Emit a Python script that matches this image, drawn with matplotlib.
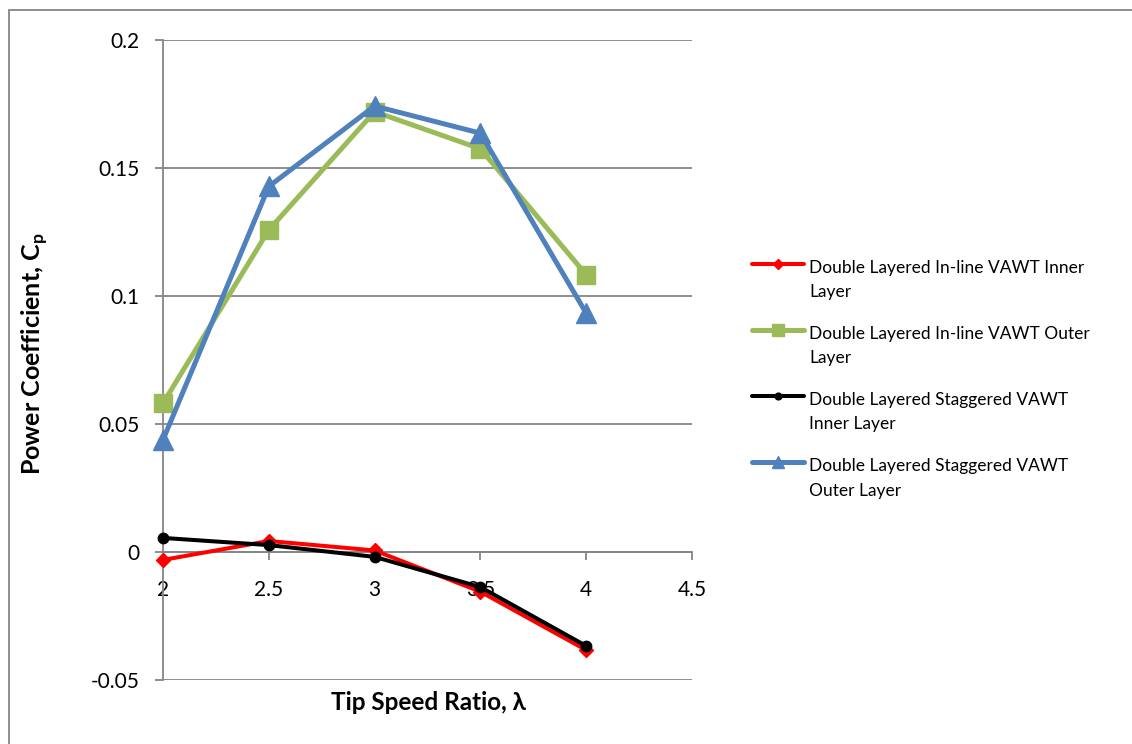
import matplotlib
matplotlib.use("Agg")
import numpy as np
import matplotlib.pyplot as plt
from matplotlib.patches import Rectangle
from matplotlib.legend_handler import HandlerLine2D

# Tip speed ratio and power coefficient for each rotor layer
tsr = [2, 2.5, 3, 3.5, 4]
inline_inner = [-0.0031, 0.0043, 0.0006, -0.0155, -0.0383]
inline_outer = [0.0581, 0.1258, 0.1720, 0.1575, 0.1083]
staggered_inner = [0.0055, 0.0027, -0.0019, -0.0137, -0.0367]
staggered_outer = [0.0438, 0.1428, 0.1742, 0.1636, 0.0933]

series_labels = [
    "Double Layered In-line VAWT Inner\nLayer",
    "Double Layered In-line VAWT Outer\nLayer",
    "Double Layered Staggered VAWT\nInner Layer",
    "Double Layered Staggered VAWT\nOuter Layer",
]
x_ticks = [2, 2.5, 3, 3.5, 4, 4.5]
x_tick_labels = ["2", "2.5", "3", "3.5", "4", "4.5"]
y_ticks = [-0.05, 0, 0.05, 0.1, 0.15, 0.2]
y_tick_labels = ["-0.05", "0", "0.05", "0.1", "0.15", "0.2"]

FONT = ["Lato", "DejaVu Sans"]
plt.rcParams["font.family"] = FONT
plt.rcParams["mathtext.fontset"] = "custom"
plt.rcParams["mathtext.bf"] = "Lato:bold"
plt.rcParams["mathtext.rm"] = "Lato"

GRAY = "#868686"
W, H = 1132, 744
LEGEND_SIZE = 12.5
LEGEND_LINESPACING = 1.625


class FirstLineHandler(HandlerLine2D):
    """Legend handle placed level with the first line of a two-line label."""

    def create_artists(self, legend, orig_handle, xdescent, ydescent,
                       width, height, fontsize, trans):
        artists = super().create_artists(legend, orig_handle, xdescent,
                                         ydescent, width, height, fontsize,
                                         trans)
        shift = 0.5 * fontsize * 1.2 * LEGEND_LINESPACING
        for a in artists:
            a.set_ydata(np.asarray(a.get_ydata(), dtype=float) + shift)
        return artists


fig = plt.figure(figsize=(W / 100, H / 100), dpi=100)
fig.patch.set_facecolor("white")

# outer chart-area border
fig.add_artist(Rectangle((9 / W, -0.1), 1.2, 1 - 10 / H + 0.1,
                         transform=fig.transFigure, fill=False,
                         edgecolor=GRAY, linewidth=1.3))

ax = fig.add_axes([163 / W, 1 - 680 / H, (692 - 163) / W, (680 - 40) / H])

styles = [
    (inline_inner, "#FF0000", "D", 7.5, 2.9),
    (inline_outer, "#9BBB59", "s", 13, 3.6),
    (staggered_inner, "#000000", "o", 7.5, 2.9),
    (staggered_outer, "#4F81BD", "^", 14, 3.6),
]
handles = []
for (vals, color, marker, ms, lw), label in zip(styles, series_labels):
    h, = ax.plot(tsr, vals, color=color, marker=marker, markersize=ms,
                 linewidth=lw, label=label, solid_joinstyle="round",
                 solid_capstyle="round", zorder=3, clip_on=False)
    handles.append(h)

ax.set_xlim(2, 4.5)
ax.set_ylim(-0.05, 0.2)
ax.set_xticks(x_ticks)
ax.set_xticklabels(x_tick_labels)
ax.set_yticks(y_ticks)
ax.set_yticklabels(y_tick_labels)

ax.yaxis.grid(True, color=GRAY, linewidth=1.3)
ax.set_axisbelow(True)
for side in ("top", "right"):
    ax.spines[side].set_visible(False)
ax.spines["left"].set_color(GRAY)
ax.spines["left"].set_linewidth(1.3)
ax.spines["bottom"].set_position(("data", 0))
ax.spines["bottom"].set_color(GRAY)
ax.spines["bottom"].set_linewidth(1.3)

ax.tick_params(axis="both", direction="out", length=6, width=1.3,
               color=GRAY, labelsize=15, labelcolor="black")
ax.tick_params(axis="y", pad=11)
ax.tick_params(axis="x", pad=14)

fig.text(35 / W, 1 - 354 / H, r"Power Coefficient, C$_\mathbf{p}$",
         rotation=90, ha="center", va="center", fontsize=18,
         fontweight="bold")
fig.text(428 / W, 1 - 702 / H, "Tip Speed Ratio, λ", ha="center",
         va="center", fontsize=17.5, fontweight="bold")

leg = fig.legend(handles=handles, loc="upper left",
                 bbox_to_anchor=(752 / W, 1 - 260 / H), frameon=False,
                 fontsize=LEGEND_SIZE, handlelength=3.0, handletextpad=0.3,
                 borderpad=0, borderaxespad=0, labelspacing=1.5,
                 numpoints=1, markerscale=0.65,
                 handler_map={h: FirstLineHandler() for h in handles})
for t in leg.get_texts():
    t.set_linespacing(LEGEND_LINESPACING)

fig.savefig("out.png", dpi=100)
